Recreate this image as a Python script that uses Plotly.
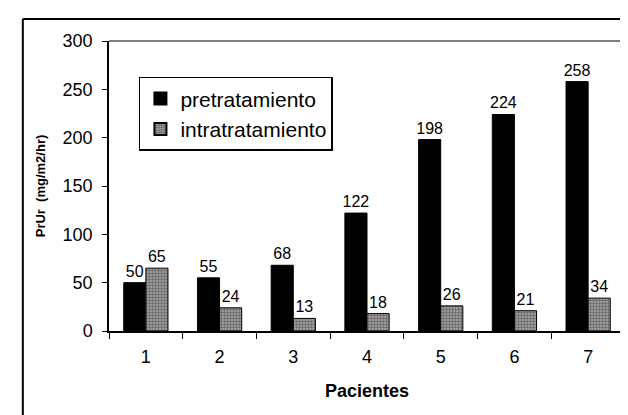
import plotly.graph_objects as go

pacientes = ["1", "2", "3", "4", "5", "6", "7"]
pretratamiento = [50, 55, 68, 122, 198, 224, 258]
intratratamiento = [65, 24, 13, 18, 26, 21, 34]
y_ticks = [0, 50, 100, 150, 200, 250, 300]

font_family = "Liberation Sans, Arial, sans-serif"

fig = go.Figure()
fig.add_trace(go.Bar(
    x=pacientes, y=pretratamiento, name="pretratamiento",
    marker=dict(color="black", line=dict(color="black", width=1)),
    text=pretratamiento, textposition="outside",
    textfont=dict(family=font_family, size=16, color="black"),
    cliponaxis=False,
))
fig.add_trace(go.Bar(
    x=pacientes, y=intratratamiento, name="intratratamiento",
    marker=dict(color="#8a8a8a", line=dict(color="black", width=1),
                pattern=dict(shape=".", fgcolor="#222222", bgcolor="#a8a8a8", size=3, solidity=0.5)),
    text=intratratamiento, textposition="outside",
    textfont=dict(family=font_family, size=16, color="black"),
    cliponaxis=False,
))

fig.update_layout(
    width=628, height=415,
    margin=dict(l=101, r=11, t=33, b=92),
    paper_bgcolor="white", plot_bgcolor="white",
    barmode="group", bargap=0.4, bargroupgap=0,
    font=dict(family=font_family, color="black"),
    uniformtext=dict(minsize=16, mode="show"),
    showlegend=True,
    legend=dict(
        x=0.058, y=0.876, xanchor="left", yanchor="top",
        bordercolor="black", borderwidth=1.5, bgcolor="white",
        font=dict(family=font_family, size=21, color="black"),
        itemsizing="constant", tracegroupgap=0, itemwidth=30,
    ),
    xaxis=dict(
        type="category", tickson="boundaries", ticks="outside", ticklen=6,
        tickcolor="black", showline=True, linecolor="black", linewidth=1.5,
        tickfont=dict(size=18, family=font_family, color="black"),
        ticklabelstandoff=9,
        title=dict(text="<b>Pacientes</b>", font=dict(size=18, family=font_family), standoff=18),
        showgrid=False,
    ),
    yaxis=dict(
        range=[0, 300], tickvals=y_ticks, ticks="outside", ticklen=5,
        tickcolor="black", showline=True, linecolor="black", linewidth=1.5,
        tickfont=dict(size=18, family=font_family, color="black"),
        ticklabelstandoff=6,
        title=dict(text="<b>PrUr  (mg/m2/hr)</b>", font=dict(size=13, family=font_family), standoff=14),
        showgrid=False, zeroline=False,
    ),
    shapes=[
        dict(type="line", xref="paper", yref="paper", x0=0, x1=1, y0=1, y1=1,
             line=dict(color="black", width=1)),
        dict(type="line", xref="paper", yref="paper", x0=-0.167, x1=1.03, y0=1.076, y1=1.076,
             line=dict(color="black", width=2)),
        dict(type="line", xref="paper", yref="paper", x0=-0.167, x1=-0.167, y0=1.076, y1=-0.35,
             line=dict(color="black", width=2)),
    ],
)

fig.write_html("out.html")
